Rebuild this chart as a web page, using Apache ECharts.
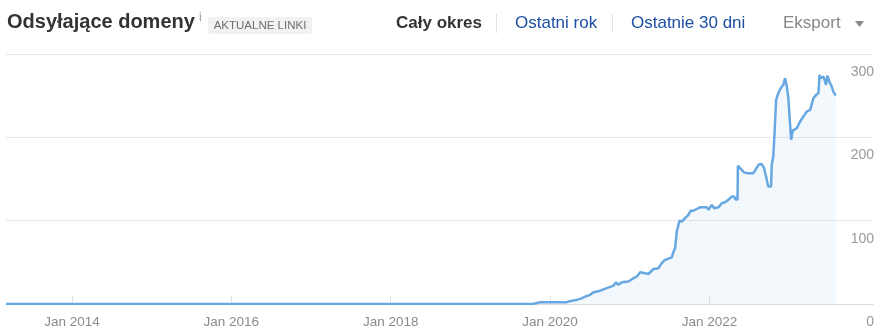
<!DOCTYPE html>
<html>
<head>
<meta charset="utf-8">
<script src="https://cdn.jsdelivr.net/npm/echarts@6/dist/echarts.min.js"></script>
<style>
  html, body { margin: 0; padding: 0; background: #fff; }
  #chart { width: 886px; height: 334px; }
</style>
</head>
<body>
<div id="chart"></div>
<script>
const dates = [
  '2013-03-05','2019-10-15','2019-10-29','2019-11-16','2020-03-15','2020-03-26','2020-05-04','2020-05-27',
  '2020-06-11','2020-07-03','2020-07-18','2020-08-18','2020-09-17','2020-10-18','2020-10-29','2020-11-09',
  '2020-11-25','2020-12-25','2021-01-18','2021-02-02','2021-02-17','2021-03-12','2021-03-27','2021-04-19',
  '2021-05-12','2021-05-27','2021-06-11','2021-07-12','2021-07-19','2021-07-27','2021-08-04','2021-08-16',
  '2021-08-27','2021-09-11','2021-09-26','2021-10-07','2021-10-19','2021-11-03','2021-11-18','2021-12-19',
  '2021-12-27','2022-01-11','2022-01-22','2022-02-11','2022-02-26','2022-03-13','2022-03-28','2022-04-13',
  '2022-04-24','2022-04-28','2022-05-09','2022-05-11','2022-05-21','2022-06-08','2022-06-21','2022-07-21',
  '2022-08-13','2022-08-28','2022-09-08','2022-09-17','2022-09-27','2022-10-10','2022-10-13','2022-10-20',
  '2022-10-25','2022-11-02','2022-11-12','2022-11-23','2022-12-05','2022-12-13','2022-12-21','2022-12-28',
  '2023-01-05','2023-01-10','2023-01-17','2023-02-05','2023-02-20','2023-03-07','2023-03-23','2023-04-07',
  '2023-04-22','2023-05-05','2023-05-15','2023-05-20','2023-05-26','2023-06-07','2023-06-15','2023-06-19',
  '2023-06-25','2023-07-04','2023-07-15','2023-07-22','2023-08-02'
];
const values = [
  0,0,1,2,2,3,5,7,
  9,11,14,16,19,22,26,23,
  26,27,31,33,38,37,36,42,
  43,49,53,56,62,67,87,100,
  99,103,107,112,112,114,116,116,
  113,119,115,116,121,122,125,129,
  129,126,125,166,163,158,157,157,
  167,168,163,153,141,141,167,177,
  201,245,253,259,263,271,261,247,
  245,197,208,211,219,225,231,233,
  247,251,253,275,271,273,271,263,
  274,267,261,255,250
];
const xTickDates = ['2014-01-01','2016-01-01','2018-01-01','2020-01-01','2022-01-01'];
const xTickLabels = ['Jan 2014','Jan 2016','Jan 2018','Jan 2020','Jan 2022'];
const yTicks = [0, 100, 200, 300];
const xRange = ['2013-03-05', '2024-01-20'];

const chart = echarts.init(document.getElementById('chart'), null, { renderer: 'canvas' });
const ts = s => Date.parse(s + 'T00:00:00Z');
const tickVals = xTickDates.map(ts);
const labelMap = {};
tickVals.forEach((v, i) => { labelMap[v] = xTickLabels[i]; });

const FONT = '"Liberation Sans", Arial, sans-serif';

chart.setOption({
  animation: false,
  grid: { left: 6, right: 13, top: 54, bottom: 30, containLabel: false },
  xAxis: {
    type: 'value',
    min: ts(xRange[0]),
    max: ts(xRange[1]),
    splitLine: { show: false },
    axisLine: { show: true, lineStyle: { color: '#dcdcdc', width: 1 } },
    axisTick: { show: true, inside: true, length: 8, lineStyle: { color: '#e2e2e2' }, customValues: tickVals },
    axisLabel: {
      customValues: tickVals,
      formatter: v => labelMap[v] || '',
      color: '#8a8a8a', fontFamily: FONT, fontSize: 13.5, margin: 11
    }
  },
  yAxis: {
    type: 'value',
    position: 'right',
    min: yTicks[0], max: yTicks[yTicks.length - 1], interval: 100,
    axisLine: { show: false },
    axisTick: { show: false },
    splitLine: { lineStyle: { color: '#e6e6e6', width: 1 } },
    axisLabel: {
      inside: true, margin: -1, color: '#999', fontFamily: FONT, fontSize: 14,
      verticalAlign: 'top', lineHeight: 16, padding: [10, 0, 0, 0]
    }
  },
  series: [{
    type: 'line',
    data: dates.map((d, i) => [ts(d), values[i]]),
    showSymbol: false,
    symbol: 'none',
    lineStyle: { color: '#68a8e2', width: 2.5 },
    areaStyle: { color: 'rgba(104,168,226,0.11)' }
  }],
  graphic: [
    { type: 'text', left: 7, top: 12, style: { text: 'Odsyłające domeny', font: 'bold 20px ' + FONT, fill: '#333' } },
    { type: 'text', left: 199, top: 12, style: { text: 'i', font: '12px ' + FONT, fill: '#999' } },
    { type: 'rect', shape: { x: 208, y: 17, width: 104, height: 17, r: 2 }, style: { fill: '#f2f2f2' } },
    { type: 'text', x: 260, y: 25.5, style: { text: 'AKTUALNE LINKI', font: '11.5px ' + FONT, fill: '#6e6e6e', align: 'center', verticalAlign: 'middle' } },
    { type: 'text', x: 396, y: 23, style: { text: 'Cały okres', font: 'bold 17px ' + FONT, fill: '#333', verticalAlign: 'middle' } },
    { type: 'line', shape: { x1: 496.5, y1: 14, x2: 496.5, y2: 33 }, style: { stroke: '#e2e2e2', lineWidth: 1 } },
    { type: 'text', x: 515, y: 23, style: { text: 'Ostatni rok', font: '17px ' + FONT, fill: '#1c4fa2', verticalAlign: 'middle' } },
    { type: 'line', shape: { x1: 612.5, y1: 14, x2: 612.5, y2: 33 }, style: { stroke: '#e2e2e2', lineWidth: 1 } },
    { type: 'text', x: 631, y: 23, style: { text: 'Ostatnie 30 dni', font: '17px ' + FONT, fill: '#1c4fa2', verticalAlign: 'middle' } },
    { type: 'text', x: 783, y: 23, style: { text: 'Eksport', font: '17px ' + FONT, fill: '#888', verticalAlign: 'middle' } },
    { type: 'polygon', shape: { points: [[855, 21], [864, 21], [859.5, 27]] }, style: { fill: '#888' } }
  ]
});
</script>
</body>
</html>
